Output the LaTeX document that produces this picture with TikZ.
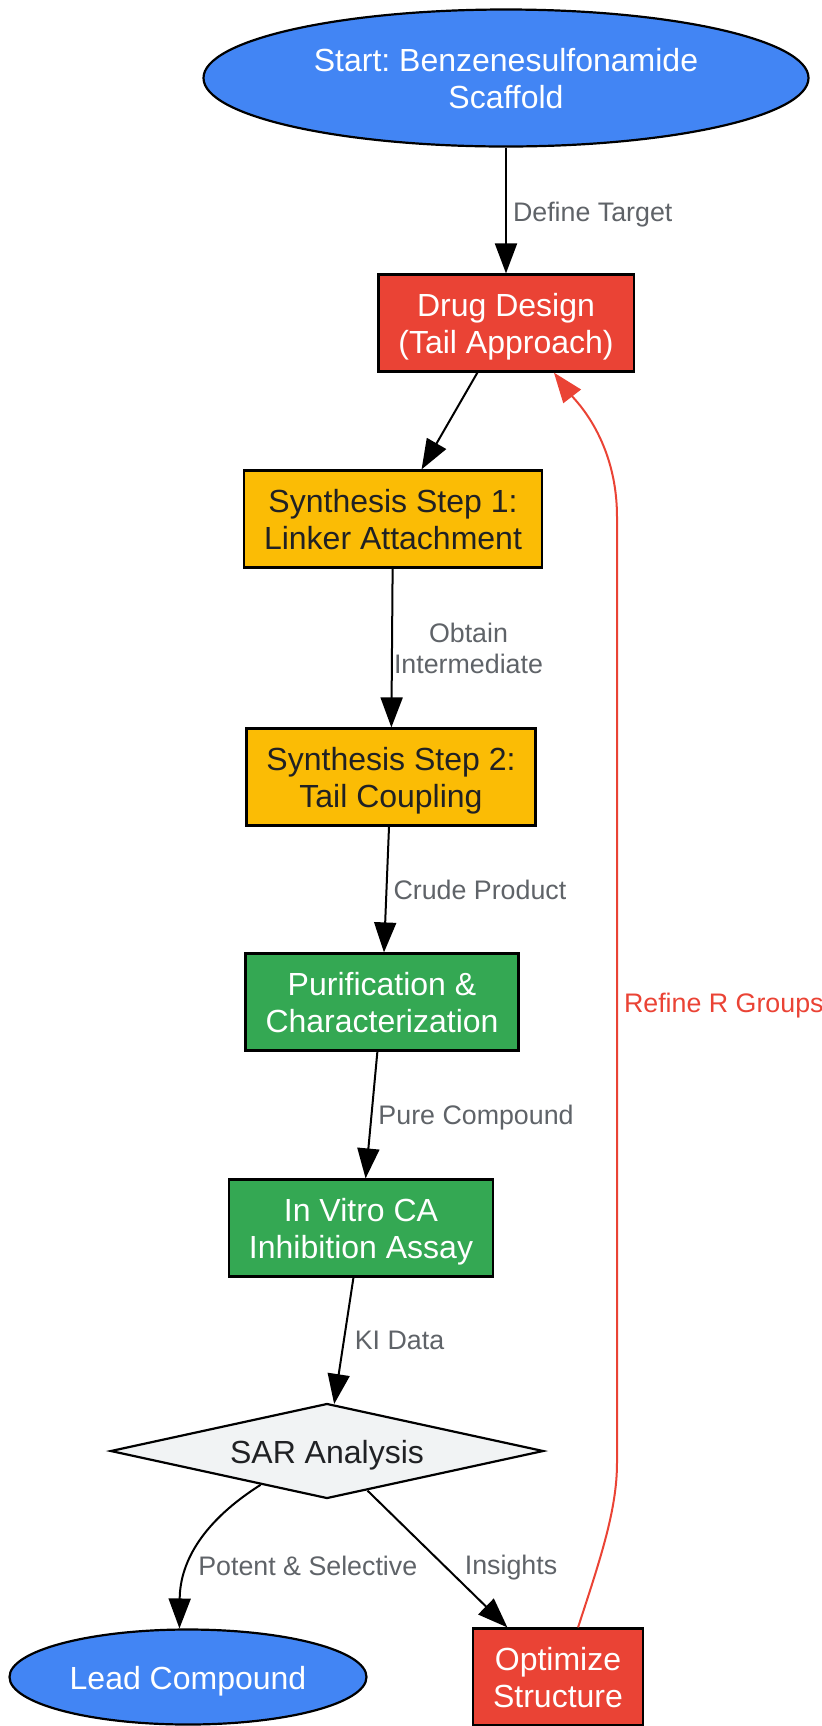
\documentclass[tikz,border=0pt]{standalone}
\usepackage{fontspec}
\setmainfont{Liberation Sans}
\usetikzlibrary{positioning,arrows.meta,shapes.geometric}
\definecolor{nodeblue}{RGB}{66,133,244}
\definecolor{nodered}{RGB}{234,67,53}
\definecolor{nodeyellow}{RGB}{251,188,5}
\definecolor{nodegreen}{RGB}{52,168,83}
\definecolor{nodegray}{RGB}{241,243,244}
\definecolor{textdark}{RGB}{32,33,36}
\definecolor{labelgray}{RGB}{95,99,104}
\tikzset{
  arrow/.style={-{Triangle[length=15pt,width=11pt]}, line width=1pt, draw=black},
  feedback/.style={-{Triangle[length=15pt,width=11pt]}, line width=1pt, draw=nodered},
  elabel/.style={font=\fontsize{13.4}{15.5}\selectfont, text=labelgray, align=center, inner sep=3pt},
  twoline/.style={text height=32.2pt, text depth=1.6pt},
  oneline/.style={text height=15pt, text depth=2.3pt},
  block/.style={
    draw=black,
    line width=1.1pt,
    rectangle,
    minimum height=48.5pt,
    inner xsep=10pt,
    align=center,
    twoline,
    font=\fontsize{16}{18.5}\selectfont
  },
  terminal/.style={
    ellipse,
    draw=black,
    line width=1.1pt,
    fill=nodeblue,
    text=white,
    inner sep=0pt,
    align=center,
    font=\fontsize{16}{18.5}\selectfont
  },
  decision/.style={
    diamond,
    aspect=4.5,
    draw=black,
    line width=1.1pt,
    fill=nodegray,
    text=textdark,
    minimum width=216.5pt,
    minimum height=47.5pt,
    inner sep=0pt,
    oneline,
    font=\fontsize{16}{18.5}\selectfont
  }
}

\begin{document}
\frenchspacing
\begin{tikzpicture}[x=0.5pt, y=-0.5pt]
\useasboundingbox (0,0) rectangle (822,1726);

% Main flow
\node[terminal, twoline, minimum width=302.5pt, minimum height=68.5pt] (start) at (506,78) {Start: Benzenesulfonamide\\Scaffold};
\node[block, fill=nodered, text=white] (design) at (506,323) {Drug Design\\(Tail Approach)};
\node[block, fill=nodeyellow, text=textdark] (synth1) at (393,519) {Synthesis Step 1:\\Linker Attachment};
\node[block, fill=nodeyellow, text=textdark] (synth2) at (391,777) {Synthesis Step 2:\\Tail Coupling};
\node[block, fill=nodegreen, text=white] (purify) at (382,1002) {Purification \&\\Characterization};
\node[block, fill=nodegreen, text=white] (assay) at (361,1228) {In Vitro CA\\Inhibition Assay};
\node[decision] (sar) at (327,1451) {SAR Analysis};

% Outcomes
\node[terminal, oneline, minimum width=178.5pt, minimum height=47.5pt] (lead) at (188,1677) {Lead Compound};
\node[block, fill=nodered, text=white] (optimize) at (558,1677) {Optimize\\Structure};

% Connections
\draw[arrow] (start) -- node[elabel, right, yshift=-2pt] {Define Target} (design);
\draw[arrow] (design) -- (synth1);
\draw[arrow] (synth1) -- node[elabel, right=-2.5pt] {Obtain\\Intermediate} (synth2);
\draw[arrow] (synth2) -- node[elabel, right] {Crude Product} (purify);
\draw[arrow] (purify) -- node[elabel, right, yshift=-1.5pt] {Pure Compound} (assay);
\draw[arrow] (assay) -- node[elabel, right=2pt] {KI Data} (sar);

% Decision outcomes
\draw[arrow] (sar.207) .. controls (205,1520) and (180,1560) ..
  node[elabel, right=1pt, pos=0.65] {Potent \& Selective} (lead.100);
\draw[arrow] (sar) -- node[elabel, pos=0.56, right=6pt] {Insights} (optimize);

% Feedback loop
\draw[feedback] (optimize.68) .. controls (600,1560) and (617,1510) .. (617,1463)
  -- node[elabel, text=nodered, right, pos=0.484] {Refine R Groups} (617,517)
  .. controls (617,440) and (575,400) .. (design.-46);

\end{tikzpicture}
\end{document}
